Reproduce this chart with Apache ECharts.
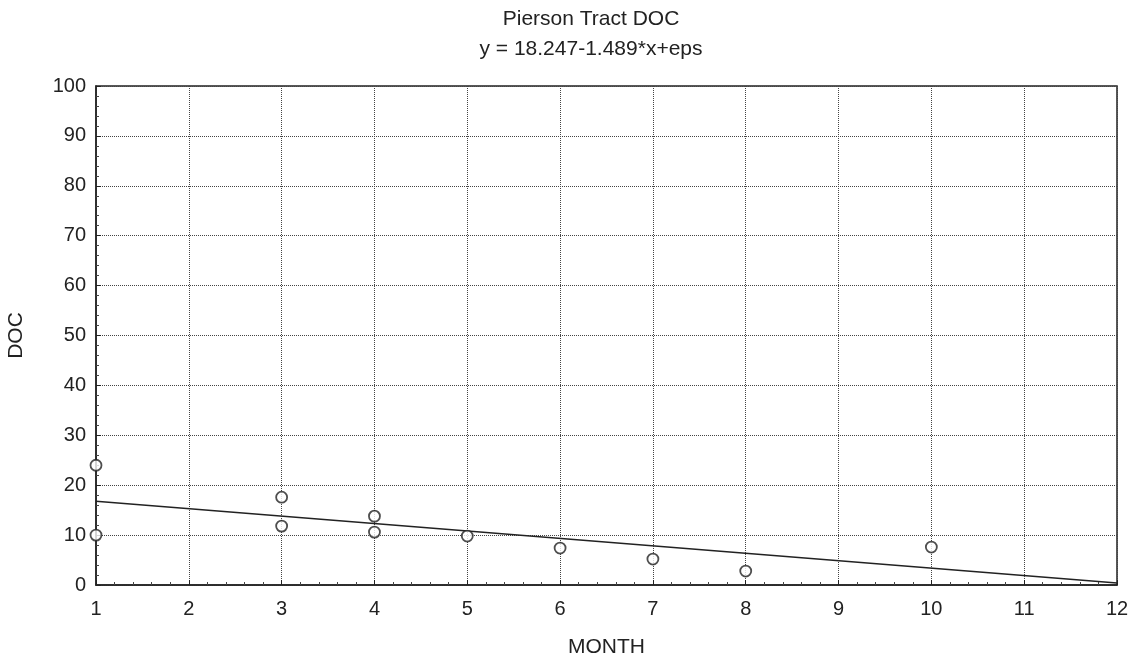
<!DOCTYPE html>
<html>
<head>
<meta charset="utf-8">
<script src="https://cdn.jsdelivr.net/npm/echarts@6/dist/echarts.min.js"></script>
<style>
  html, body { margin: 0; padding: 0; background: #fff; }
  #chart { width: 1135px; height: 661px; }
</style>
</head>
<body>
<div id="chart"></div>
<script>
// observed DOC values per month
var monthData = [1, 1, 3, 3, 4, 4, 5, 6, 7, 8, 10];
var docData = [24, 10, 17.6, 11.8, 13.8, 10.6, 9.8, 7.4, 5.2, 2.8, 7.6];
// fitted line ends (y = 18.247-1.489*x)
var fitX = [1, 12];
var fitY = [16.76, 0.38];
var xTicks = [1, 2, 3, 4, 5, 6, 7, 8, 9, 10, 11, 12];
var yTicks = [0, 10, 20, 30, 40, 50, 60, 70, 80, 90, 100];

var chart = echarts.init(document.getElementById('chart'));

var points = monthData.map(function (m, i) { return [m, docData[i]]; });
var fitLine = fitX.map(function (x, i) { return [x, fitY[i]]; });

var font = 'Liberation Sans, Arial, sans-serif';

var option = {
  animation: false,
  backgroundColor: '#fff',
  title: {
    text: 'Pierson Tract DOC',
    subtext: 'y = 18.247-1.489*x+eps',
    left: 586,
    textAlign: 'center',
    top: 4,
    itemGap: 9,
    textStyle: { fontFamily: font, fontSize: 21, fontWeight: 'normal', color: '#222' },
    subtextStyle: { fontFamily: font, fontSize: 21, color: '#222' }
  },
  grid: {
    left: 96,
    right: 18,
    top: 86,
    bottom: 76,
    containLabel: false,
    outerBoundsMode: 'none',
    show: true,
    borderColor: '#222',
    borderWidth: 1.5
  },
  xAxis: {
    type: 'value',
    min: xTicks[0],
    max: xTicks[xTicks.length - 1],
    interval: 1,
    name: 'MONTH',
    nameLocation: 'middle',
    nameGap: 52,
    nameTextStyle: { fontFamily: font, fontSize: 21, color: '#222' },
    axisLine: { lineStyle: { color: '#222', width: 1.5 } },
    axisTick: { inside: true, length: 5, lineStyle: { color: '#222' } },
    minorTick: { show: true, splitNumber: 5, length: 3, lineStyle: { color: '#444' } },
    axisLabel: { fontFamily: font, fontSize: 20, color: '#222', margin: 14 },
    splitLine: { show: true, lineStyle: { type: 'dotted', color: '#444', width: 1 } }
  },
  yAxis: {
    type: 'value',
    min: yTicks[0],
    max: yTicks[yTicks.length - 1],
    interval: 10,
    name: 'DOC',
    nameLocation: 'middle',
    nameGap: 69,
    nameTextStyle: { fontFamily: font, fontSize: 21, color: '#222' },
    axisLine: { show: true, lineStyle: { color: '#222', width: 1.5 } },
    axisTick: { show: true, inside: true, length: 5, lineStyle: { color: '#222' } },
    minorTick: { show: true, splitNumber: 5, length: 3, lineStyle: { color: '#444' } },
    axisLabel: { fontFamily: font, fontSize: 20, color: '#222', margin: 10 },
    splitLine: { show: true, lineStyle: { type: 'dotted', color: '#444', width: 1 } }
  },
  series: [
    {
      name: 'fit',
      type: 'line',
      data: fitLine,
      symbol: 'none',
      lineStyle: { color: '#222', width: 1.5 },
      z: 3
    },
    {
      name: 'DOC',
      type: 'scatter',
      data: points,
      symbol: 'circle',
      symbolSize: 11,
      itemStyle: { color: '#fff', borderColor: '#222', borderWidth: 1.8 },
      z: 4
    }
  ]
};

chart.setOption(option);
</script>
</body>
</html>
